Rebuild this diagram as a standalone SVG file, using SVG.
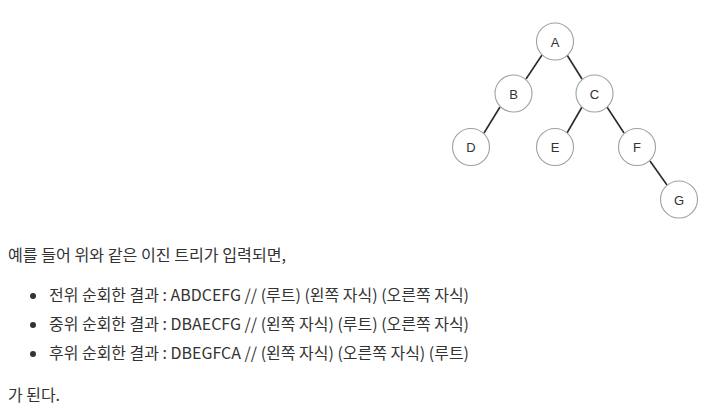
<svg xmlns="http://www.w3.org/2000/svg" width="715" height="409" viewBox="0 0 715 409">
<style>
.n circle{fill:#fff;stroke:#a0a0a0;stroke-width:1.1}
.n text{font-family:"Liberation Sans",Arial,sans-serif;font-size:13px;fill:#333;text-anchor:middle;dominant-baseline:central}
.e line{stroke:#2a2a2a;stroke-width:1.6}
.t{font-family:"Noto Sans CJK KR","Noto Sans",sans-serif;font-size:16px;fill:#333}
.b{fill:#333}
</style>
<rect width="715" height="409" fill="#fff"/>
<g id="edges" class="e">
<line x1="542" y1="55" x2="526" y2="79"/>
<line x1="567" y1="55" x2="582" y2="79"/>
<line x1="500" y1="107" x2="484" y2="133"/>
<line x1="582" y1="107" x2="567" y2="133"/>
<line x1="607" y1="107" x2="624" y2="133"/>
<line x1="650" y1="161" x2="667" y2="185"/>
</g>
<g id="A" class="n"><circle cx="555" cy="41.5" r="18.5"/><text x="555" y="42">A</text></g>
<g id="B" class="n"><circle cx="513.5" cy="93.5" r="18.5"/><text x="513.5" y="94">B</text></g>
<g id="C" class="n"><circle cx="594.5" cy="93.5" r="18.5"/><text x="594.5" y="94">C</text></g>
<g id="D" class="n"><circle cx="471" cy="147" r="18.5"/><text x="471" y="147.5">D</text></g>
<g id="E" class="n"><circle cx="555" cy="147" r="18.5"/><text x="555" y="147.5">E</text></g>
<g id="F" class="n"><circle cx="637" cy="147" r="18.5"/><text x="637" y="147.5">F</text></g>
<g id="G" class="n"><circle cx="679" cy="199.5" r="18.5"/><text x="679" y="200">G</text></g>
<g id="body">
<text class="t" x="8" y="261" textLength="278" lengthAdjust="spacingAndGlyphs">예를 들어 위와 같은 이진 트리가 입력되면,</text>
<circle class="b" cx="33" cy="296" r="3"/>
<text class="t" x="49" y="301" textLength="420" lengthAdjust="spacingAndGlyphs">전위 순회한 결과 : ABDCEFG // (루트) (왼쪽 자식) (오른쪽 자식)</text>
<circle class="b" cx="33" cy="325" r="3"/>
<text class="t" x="49" y="330" textLength="420" lengthAdjust="spacingAndGlyphs">중위 순회한 결과 : DBAECFG // (왼쪽 자식) (루트) (오른쪽 자식)</text>
<circle class="b" cx="33" cy="354" r="3"/>
<text class="t" x="49" y="359" textLength="420" lengthAdjust="spacingAndGlyphs">후위 순회한 결과 : DBEGFCA // (왼쪽 자식) (오른쪽 자식) (루트)</text>
<text class="t" x="8" y="401" textLength="52" lengthAdjust="spacingAndGlyphs">가 된다.</text>
</g>
</svg>
